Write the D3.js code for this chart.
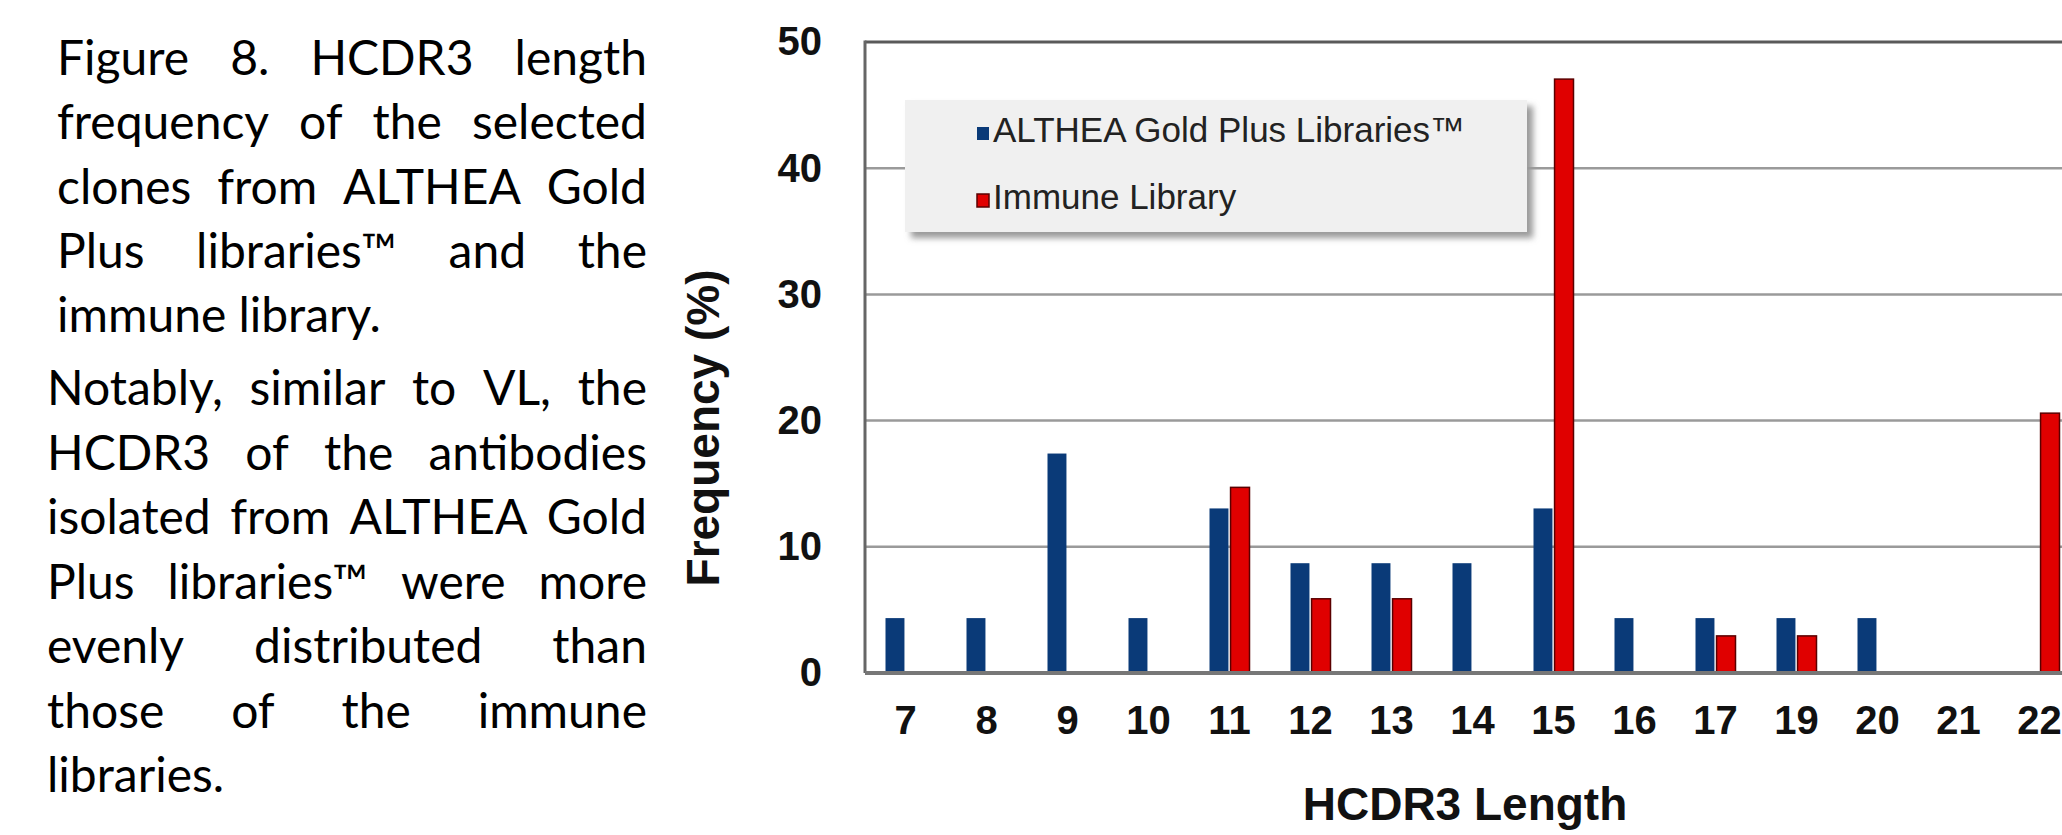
<!DOCTYPE html>
<html>
<head>
<meta charset="utf-8">
<script src="https://cdn.jsdelivr.net/npm/d3@7"></script>
<style>
  html, body { margin: 0; padding: 0; background: #fff; }
  svg { display: block; }
  .para { font-family: Lato, "Open Sans", sans-serif; font-size: 48px; fill: #000; }
  .tick text { font-family: "Liberation Sans", Arial, sans-serif; font-weight: bold; font-size: 40px; fill: #111; }
  .axis-title { font-family: "Liberation Sans", Arial, sans-serif; font-weight: bold; font-size: 46px; fill: #111; }
  .legend-text { font-family: "Liberation Sans", Arial, sans-serif; font-size: 35px; fill: #222; }
</style>
</head>
<body>
<div id="chart"></div>
<script>
// HCDR3 length categories (18 is not present in the figure)
const categories = ["7", "8", "9", "10", "11", "12", "13", "14", "15", "16", "17", "19", "20", "21", "22"];
// frequency (%) per category
const altheaValues = [4.35, 4.35, 17.39, 4.35, 13.04, 8.70, 8.70, 8.70, 13.04, 4.35, 4.35, 4.35, 4.35, 0, 0];
const immuneValues = [0, 0, 0, 0, 14.71, 5.88, 5.88, 0, 47.06, 0, 2.94, 2.94, 0, 0, 20.59];
const seriesNames = ["ALTHEA Gold Plus Libraries\u2122", "Immune Library"];
const yTicks = [0, 10, 20, 30, 40, 50];

// caption text, one entry per printed line
const captionLines = [
  "Figure 8. HCDR3 length",
  "frequency of the selected",
  "clones from ALTHEA Gold",
  "Plus libraries\u2122 and the",
  "immune library."
];
const noteLines = [
  "Notably, similar to VL, the",
  "HCDR3 of the antibodies",
  "isolated from ALTHEA Gold",
  "Plus libraries\u2122 were more",
  "evenly distributed than",
  "those of the immune",
  "libraries."
];

const W = 2062, H = 835;
const svg = d3.select("#chart").append("svg")
  .attr("width", W)
  .attr("height", H)
  .attr("viewBox", "0 0 " + W + " " + H);

svg.append("rect").attr("width", W).attr("height", H).attr("fill", "#fff");

// ---- caption paragraphs (justified by hand, line by line) ----
function drawLines(lines, x0, x1, firstBase, step) {
  lines.forEach(function (line, i) {
    let words = line.split(" ");
    let y = firstBase + i * step;
    let g = svg.append("g").attr("class", "para");
    let nodes = words.map(w => g.append("text").attr("y", y).text(w));
    let widths = nodes.map(n => n.node().getComputedTextLength());
    let total = d3.sum(widths);
    let last = i === lines.length - 1;
    let gap = (!last && words.length > 1) ? (x1 - x0 - total) / (words.length - 1) : 12;
    let cx = x0;
    nodes.forEach(function (n, k) {
      n.attr("x", cx);
      cx += widths[k] + gap;
    });
  });
}
drawLines(captionLines, 57, 647, 75, 64.3);
drawLines(noteLines, 47, 647, 405, 64.5);

// ---- chart ----
const plot = { l: 865, t: 42, b: 673 };

const x = d3.scaleBand()
  .domain(categories)
  .range([plot.l, plot.l + categories.length * 81]);

const x1 = d3.scaleBand()
  .domain([0, 1])
  .range([x.bandwidth() / 2 - 20, x.bandwidth() / 2 + 20])
  .paddingInner(0.1);

const y = d3.scaleLinear()
  .domain([0, 50])
  .range([plot.b, plot.t]);

const plotRight = x.range()[1];

// gridlines
svg.append("g")
  .selectAll("line")
  .data(yTicks.filter(d => d > 0 && d < 50))
  .enter().append("line")
  .attr("x1", plot.l).attr("x2", plotRight)
  .attr("y1", d => y(d)).attr("y2", d => y(d))
  .attr("stroke", "#9a9a9a")
  .attr("stroke-width", 2.5);

// top border
svg.append("line")
  .attr("x1", plot.l).attr("x2", plotRight)
  .attr("y1", y(50)).attr("y2", y(50))
  .attr("stroke", "#5a5a5a").attr("stroke-width", 3);

// legend box with soft shadow
const shadow = svg.append("defs").append("filter")
  .attr("id", "blur").attr("x", "-5%").attr("y", "-20%").attr("width", "110%").attr("height", "140%");
shadow.append("feGaussianBlur").attr("stdDeviation", 3);

const lg = { x: 905, y: 100, w: 622, h: 132 };
svg.append("rect")
  .attr("x", lg.x + 6).attr("y", lg.y + 6)
  .attr("width", lg.w).attr("height", lg.h)
  .attr("fill", "#9a9a9a")
  .attr("filter", "url(#blur)");
svg.append("rect")
  .attr("x", lg.x).attr("y", lg.y)
  .attr("width", lg.w).attr("height", lg.h)
  .attr("fill", "#f0f0f0");

const colors = ["#0a3a78", "#e00000"];
const strokes = ["none", "#5a0000"];

const legendItems = svg.append("g")
  .selectAll("g")
  .data(seriesNames)
  .enter().append("g")
  .attr("transform", (d, i) => "translate(977," + (i === 0 ? 127 : 194) + ")");
legendItems.append("rect")
  .attr("width", 12).attr("height", 13)
  .attr("fill", (d, i) => colors[i])
  .attr("stroke", (d, i) => strokes[i])
  .attr("stroke-width", 1.5);
legendItems.append("text")
  .attr("class", "legend-text")
  .attr("x", 16).attr("y", 15)
  .text(d => d);

// bars
const rows = categories.map((c, i) => ({ cat: c, vals: [altheaValues[i], immuneValues[i]] }));

svg.append("g")
  .selectAll("g")
  .data(rows)
  .enter().append("g")
  .attr("transform", d => "translate(" + x(d.cat) + ",0)")
  .selectAll("rect")
  .data(d => d.vals.map((v, k) => ({ k: k, v: v })).filter(e => e.v > 0))
  .enter().append("rect")
  .attr("x", d => x1(d.k))
  .attr("width", x1.bandwidth())
  .attr("y", d => y(d.v))
  .attr("height", d => y(0) - y(d.v))
  .attr("fill", d => colors[d.k])
  .attr("stroke", d => strokes[d.k])
  .attr("stroke-width", 1.5);

// left border and baseline
svg.append("line")
  .attr("x1", plot.l).attr("x2", plot.l)
  .attr("y1", y(50) - 1.5).attr("y2", y(0))
  .attr("stroke", "#666").attr("stroke-width", 3);
svg.append("line")
  .attr("x1", plot.l).attr("x2", plotRight)
  .attr("y1", y(0)).attr("y2", y(0))
  .attr("stroke", "#777").attr("stroke-width", 4);

// axes (labels only)
const yAxis = svg.append("g")
  .attr("transform", "translate(" + plot.l + ",0)")
  .call(d3.axisLeft(y).tickValues(yTicks).tickSize(0).tickPadding(43));
yAxis.select(".domain").remove();

const xAxis = svg.append("g")
  .attr("transform", "translate(0," + plot.b + ")")
  .call(d3.axisBottom(x).tickSize(0).tickPadding(33));
xAxis.select(".domain").remove();

// axis titles
svg.append("text")
  .attr("class", "axis-title")
  .attr("x", 1465).attr("y", 820)
  .attr("text-anchor", "middle")
  .text("HCDR3 Length");

svg.append("text")
  .attr("class", "axis-title")
  .attr("transform", "translate(719,428) rotate(-90)")
  .attr("text-anchor", "middle")
  .text("Frequency (%)");
</script>
</body>
</html>
